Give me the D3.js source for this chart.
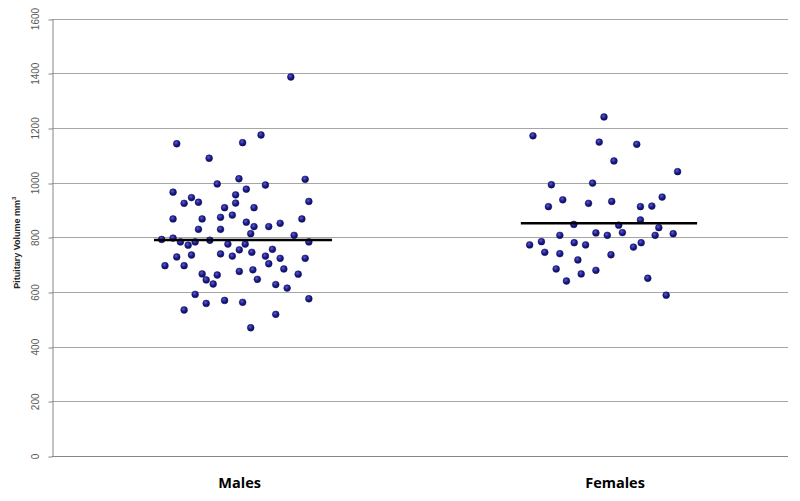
<!DOCTYPE html>
<meta charset="utf-8">
<script src="https://d3js.org/d3.v7.min.js"></script>

<style>
  body {
    margin: 0;
    background: #fff;
  }

  .grid line {
    stroke: #a6a6a6;
    stroke-width: 1px;
  }

  .ytick text {
    font: 10px "Liberation Sans", Arial, sans-serif;
    fill: #595959;
  }

  .cat {
    font: bold 14.5px "Open Sans", "Liberation Sans", sans-serif;
    fill: #000;
  }

  .ytitle {
    font: bold 9px "Liberation Sans", Arial, sans-serif;
    fill: #262626;
  }
</style>

<body>
  <div id="chart"></div>

  <script>
    // categories and where their labels sit on the x scale
    const categories = ["Males", "Females"];
    const catPos = [0.51, 1.53];

    // mean lines: [start, end, value]
    const means = [[0.277, 0.761, 790], [1.274, 1.753, 851]];

    const yTicks = [0, 200, 400, 600, 800, 1000, 1200, 1400, 1600];

    // individual subjects: [x position, volume]
    const males = [
      [0.649, 1386], [0.568, 1174], [0.339, 1142], [0.518, 1146], [0.427, 1089],
      [0.508, 1014], [0.449, 995], [0.688, 1012], [0.580, 991], [0.329, 965],
      [0.528, 976], [0.379, 945], [0.359, 924], [0.398, 928], [0.499, 955],
      [0.499, 925], [0.698, 931], [0.469, 908], [0.549, 908], [0.490, 881],
      [0.329, 867], [0.408, 867], [0.458, 873], [0.528, 855], [0.549, 839],
      [0.589, 839], [0.620, 851], [0.679, 867], [0.398, 829], [0.458, 829],
      [0.540, 813], [0.658, 807], [0.298, 792], [0.329, 797], [0.349, 783],
      [0.370, 771], [0.389, 783], [0.429, 789], [0.478, 775], [0.525, 775],
      [0.698, 783], [0.509, 754], [0.599, 756], [0.543, 745], [0.458, 739],
      [0.490, 731], [0.580, 731], [0.339, 728], [0.379, 735], [0.620, 723],
      [0.688, 723], [0.589, 703], [0.307, 696], [0.359, 696], [0.630, 684],
      [0.509, 675], [0.546, 681], [0.669, 665], [0.408, 666], [0.449, 662],
      [0.419, 644], [0.558, 646], [0.438, 629], [0.608, 627], [0.639, 614],
      [0.389, 591], [0.698, 575], [0.469, 569], [0.419, 558], [0.518, 562],
      [0.359, 534], [0.608, 518], [0.540, 469]
    ];

    const females = [
      [1.500, 1240], [1.307, 1171], [1.487, 1148], [1.589, 1140], [1.527, 1079],
      [1.700, 1040], [1.357, 992], [1.469, 998], [1.388, 937], [1.349, 912],
      [1.458, 924], [1.521, 931], [1.599, 912], [1.630, 914], [1.658, 947],
      [1.599, 863], [1.418, 847], [1.540, 844], [1.649, 835], [1.380, 807],
      [1.478, 816], [1.509, 807], [1.550, 817], [1.639, 807], [1.688, 813],
      [1.298, 772], [1.330, 784], [1.419, 780], [1.450, 772], [1.580, 764],
      [1.601, 780], [1.339, 745], [1.380, 740], [1.519, 736], [1.429, 717],
      [1.370, 684], [1.478, 679], [1.438, 666], [1.398, 640], [1.619, 650],
      [1.669, 588]
    ];

    const width = 800,
          height = 501,
          margin = {top: 18.5, right: 12, bottom: 45, left: 52};

    const svg = d3.select("#chart")
      .append("svg")
      .attr("width", width)
      .attr("height", height);

    const x = d3.scaleLinear()
      .domain([0, 2])
      .range([margin.left, width - margin.right]);

    const y = d3.scaleLinear()
      .domain([0, 1600])
      .range([height - margin.bottom, margin.top]);

    // dot shading
    const grad = svg.append("defs").append("radialGradient")
      .attr("id", "dot")
      .attr("cx", "40%").attr("cy", "35%").attr("r", "65%");
    grad.append("stop").attr("offset", "0%").attr("stop-color", "#5c5ccf");
    grad.append("stop").attr("offset", "55%").attr("stop-color", "#1c1c8e");
    grad.append("stop").attr("offset", "100%").attr("stop-color", "#0d0d5e");

    // gridlines
    svg.append("g")
      .attr("class", "grid")
      .selectAll("line")
      .data(yTicks.slice(1))
      .enter()
      .append("line")
      .attr("x1", margin.left)
      .attr("x2", width - margin.right)
      .attr("y1", d => Math.round(y(d)) + 0.5)
      .attr("y2", d => Math.round(y(d)) + 0.5);

    // y axis
    const yAxis = svg.append("g")
      .attr("class", "ytick")
      .attr("transform", `translate(${margin.left + 0.5},0)`)
      .call(d3.axisLeft(y).tickValues(yTicks).tickFormat(d3.format("d"))
        .tickSize(4).tickSizeOuter(0));
    yAxis.select(".domain").attr("stroke", "#868686");
    yAxis.selectAll(".tick line")
      .attr("stroke", "#868686")
      .attr("transform", d => `translate(0,${Math.round(y(d)) + 0.5 - y(d)})`);
    yAxis.selectAll(".tick text")
      .attr("transform", "rotate(-90)")
      .attr("x", 0)
      .attr("y", -17)
      .attr("dy", "0.35em")
      .attr("text-anchor", "middle");

    // x axis line
    svg.append("line")
      .attr("x1", margin.left)
      .attr("x2", width - margin.right)
      .attr("y1", Math.round(y(0)) + 0.5)
      .attr("y2", Math.round(y(0)) + 0.5)
      .attr("stroke", "#868686");

    // category labels
    svg.selectAll("text.cat")
      .data(categories)
      .enter()
      .append("text")
      .attr("class", "cat")
      .attr("x", (d, i) => x(catPos[i]))
      .attr("y", height - 13)
      .attr("text-anchor", "middle")
      .text(d => d);

    // y title
    const yt = svg.append("text")
      .attr("class", "ytitle")
      .attr("transform", `translate(20,${y(780)}) rotate(-90)`)
      .attr("text-anchor", "middle");
    yt.append("tspan").text("Pituitary Volume mm");
    yt.append("tspan").attr("dy", -4).attr("font-size", "6px").text("3");

    // points
    svg.append("g")
      .selectAll("circle")
      .data(males.concat(females))
      .enter()
      .append("circle")
      .attr("cx", d => x(d[0]))
      .attr("cy", d => y(d[1]))
      .attr("r", 3.4)
      .attr("fill", "url(#dot)")
      .attr("stroke", "#10105a")
      .attr("stroke-width", 0.5);

    // mean lines
    svg.append("g")
      .selectAll("line")
      .data(means)
      .enter()
      .append("line")
      .attr("x1", d => x(d[0]))
      .attr("x2", d => x(d[1]))
      .attr("y1", d => y(d[2]))
      .attr("y2", d => y(d[2]))
      .attr("stroke", "#000")
      .attr("stroke-width", 2.5);
  </script>
</body>
